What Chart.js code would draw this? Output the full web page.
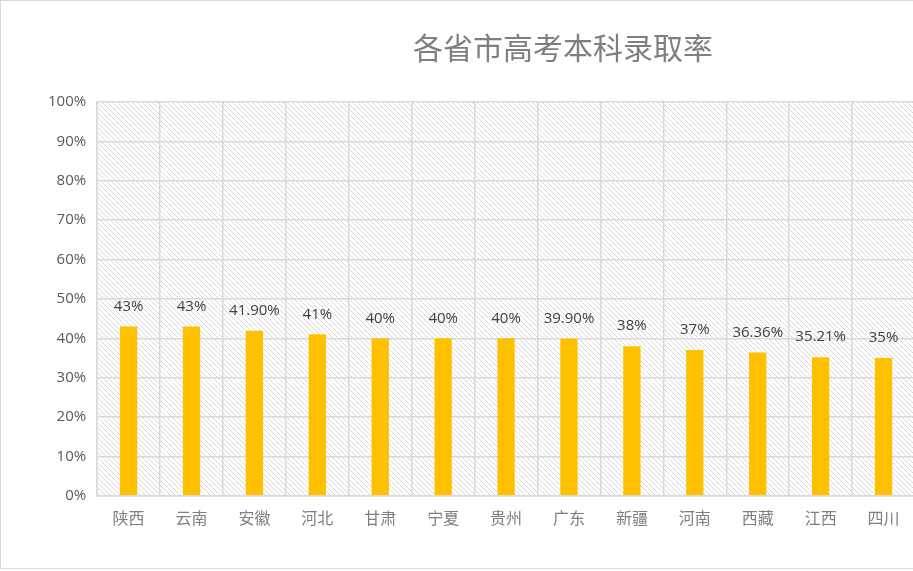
<!DOCTYPE html>
<html>
<head>
<meta charset="utf-8">
<script src="https://cdn.jsdelivr.net/npm/chart.js@4/dist/chart.umd.min.js"></script>
<style>
  html, body { margin: 0; padding: 0; background: #fff; overflow: hidden; }
  #wrap { position: absolute; left: 0; top: 0; width: 1124px; height: 567px; border: 1px solid #d9d9d9; border-right: none; background: #fff; }
</style>
</head>
<body>
<div id="wrap"><canvas id="chart"></canvas></div>
<script>
// data
const provinces = ['陕西', '云南', '安徽', '河北', '甘肃', '宁夏', '贵州', '广东', '新疆', '河南', '西藏', '江西', '四川'];
const rates = [43, 43, 41.9, 41, 40, 40, 40, 39.9, 38, 37, 36.36, 35.21, 35];
const rateLabels = ['43%', '43%', '41.90%', '41%', '40%', '40%', '40%', '39.90%', '38%', '37%', '36.36%', '35.21%', '35%'];
const yTicks = [0, 10, 20, 30, 40, 50, 60, 70, 80, 90, 100];
const chartTitle = '各省市高考本科录取率';

const cjk = '"Noto Sans CJK SC", "Noto Sans", sans-serif';
const latin = '"Open Sans", "Noto Sans", "DejaVu Sans", sans-serif';

// diagonal hatch for the plot area
function makeHatch(ctx) {
    const s = 5;
    const tile = document.createElement('canvas');
    tile.width = s; tile.height = s;
    const t = tile.getContext('2d');
    t.strokeStyle = '#d8d8d8';
    t.lineWidth = 1;
    t.beginPath();
    t.moveTo(-1, -1); t.lineTo(s + 1, s + 1);
    t.moveTo(-1, s - 1); t.lineTo(1, s + 1);
    t.moveTo(s - 1, -1); t.lineTo(s + 1, 1);
    t.stroke();
    return ctx.createPattern(tile, 'repeat');
}

const hatchPlugin = {
    id: 'hatch',
    beforeDraw(chart) {
        const { ctx, chartArea: a } = chart;
        ctx.save();
        ctx.fillStyle = makeHatch(ctx);
        ctx.fillRect(a.left, a.top, a.right - a.left, a.bottom - a.top);
        ctx.restore();
    }
};

// title is centred on the whole (wider) chart box, not on the plot
const titlePlugin = {
    id: 'wideTitle',
    afterDraw(chart) {
        const { ctx } = chart;
        ctx.save();
        ctx.font = '30px ' + cjk;
        ctx.fillStyle = '#7f7f7f';
        ctx.textAlign = 'center';
        ctx.textBaseline = 'middle';
        ctx.fillText(chartTitle, chart.width / 2, 47);
        ctx.restore();
    }
};

const valueLabelPlugin = {
    id: 'valueLabels',
    afterDatasetsDraw(chart) {
        const { ctx } = chart;
        const meta = chart.getDatasetMeta(0);
        ctx.save();
        ctx.font = '15px ' + latin;
        ctx.fillStyle = '#404040';
        ctx.textAlign = 'center';
        ctx.textBaseline = 'middle';
        meta.data.forEach((bar, i) => {
            ctx.fillText(rateLabels[i], bar.x, bar.y - 20);
        });
        ctx.restore();
    }
};

new Chart(document.getElementById('chart'), {
    type: 'bar',
    data: {
        labels: provinces,
        datasets: [{
            data: rates,
            backgroundColor: '#ffc000',
            borderWidth: 0,
            barPercentage: 0.55,
            categoryPercentage: 0.5
        }]
    },
    options: {
        responsive: true,
        maintainAspectRatio: false,
        animation: false,
        layout: { padding: { left: 36, right: 210, top: 101, bottom: 27 } },
        plugins: {
            legend: { display: false },
            tooltip: { enabled: false },
            title: { display: false }
        },
        scales: {
            x: {
                grid: { color: '#d9d9d9', lineWidth: 1.5, offset: true, drawTicks: false },
                border: { color: '#d9d9d9', width: 1.5 },
                ticks: { color: '#7f7f7f', font: { family: cjk, size: 16 }, padding: 13, maxRotation: 0 }
            },
            y: {
                min: 0,
                max: 100,
                afterBuildTicks(axis) { axis.ticks = yTicks.map(v => ({ value: v })); },
                grid: { color: '#d9d9d9', lineWidth: 1.5, drawTicks: false },
                border: { color: '#d9d9d9', width: 1.5 },
                ticks: {
                    color: '#595959',
                    font: { family: latin, size: 15 },
                    padding: 11,
                    callback: v => v + '%'
                }
            }
        }
    },
    plugins: [hatchPlugin, valueLabelPlugin, titlePlugin]
});
</script>
</body>
</html>
